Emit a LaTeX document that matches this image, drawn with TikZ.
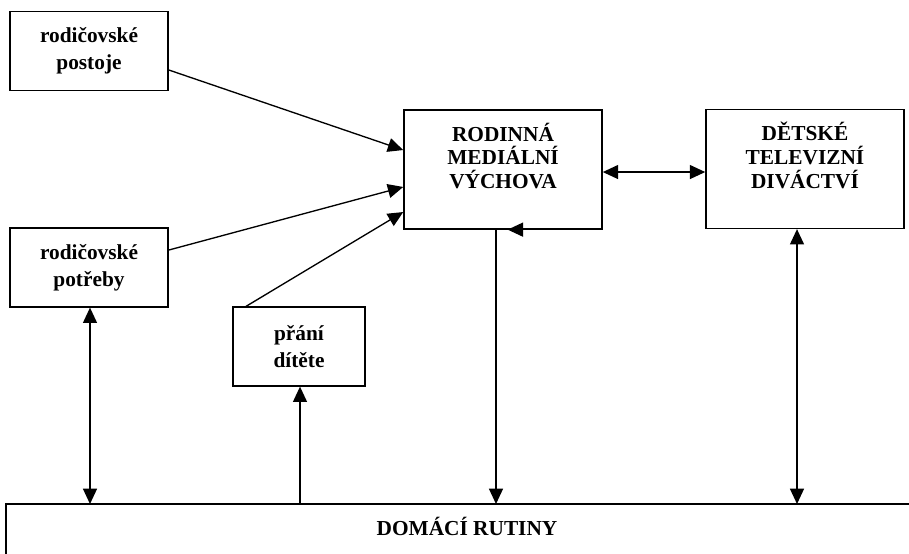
\documentclass[tikz,border=0pt]{standalone}
\usepackage{fontspec}
\setmainfont{Liberation Serif}
\usetikzlibrary{arrows.meta,positioning}

\tikzset{
  box/.style={draw,line width=1.2pt,minimum width=118.5pt,minimum height=59pt,
    align=center,font=\bfseries\fontsize{16}{20}\selectfont},
  bigbox/.style={draw,line width=1.2pt,minimum width=148.5pt,minimum height=89pt},
  boxtext/.style={align=center,anchor=north,font=\bfseries\fontsize{16}{17.8}\selectfont}
}

\begin{document}
\begin{tikzpicture}[x=0.75pt,y=-0.75pt,->,>={Triangle[length=11.5pt,width=10.5pt]},line width=1pt]
  \useasboundingbox (0,0) rectangle (909,553);

  \node [box] (post) at (89,51) {rodičovské\\postoje};
  \node [box] (potr) at (89,267.5) {rodičovské\\potřeby};
  \node [box,minimum width=99pt] (prani) at (299,346.5) {přání\\dítěte};
  \node [bigbox] (rmv) at (503,169.5) {};
  \node [bigbox] (dtd) at (805,169) {};
  \node [boxtext] (rmvt) at ([yshift=-6.25pt]rmv.north) {RODINNÁ\\MEDIÁLNÍ\\VÝCHOVA};
  \node [boxtext] (dtdt) at ([yshift=-6.25pt]dtd.north) {DĚTSKÉ\\TELEVIZNÍ\\DIVÁCTVÍ};

  % domaci rutiny (open at the right and bottom)
  \coordinate (rt) at (6,504);
  \draw [-,line width=1.2pt] (6,560) -- (rt) -- (915,504);
  \node [font=\bfseries\fontsize{16}{19}\selectfont] (rutiny) at (467,526) {DOMÁCÍ RUTINY};

  % into the family media education
  \path ([yshift=-14.25pt]post.east) edge ([yshift=14.6pt]rmv.west)
        ([yshift=13.1pt]potr.east) edge ([yshift=-13.1pt]rmv.west)
        ([xshift=-39.75pt]prani.north) edge ([yshift=-31.9pt]rmv.west);

  \draw [<->] ([yshift=-1.9pt]rmv.east) -- ([yshift=-1.9pt]rmv.east -| dtd.west);
  \draw ([xshift=-5.25pt]rmv.south) -- ([xshift=-5.25pt]rmv.south |- rt);
  \draw ([xshift=22pt]rmv.south) -- ([xshift=3.5pt]rmv.south);
  \draw [<->] ([xshift=-6pt]dtd.south) -- ([xshift=-6pt]dtd.south |- rt);
  \draw [<->] ([xshift=0.75pt]potr.south) -- ([xshift=0.75pt]potr.south |- rt);
  \draw ([xshift=0.75pt]prani.south |- rt) -- ([xshift=0.75pt]prani.south);
\end{tikzpicture}
\end{document}
